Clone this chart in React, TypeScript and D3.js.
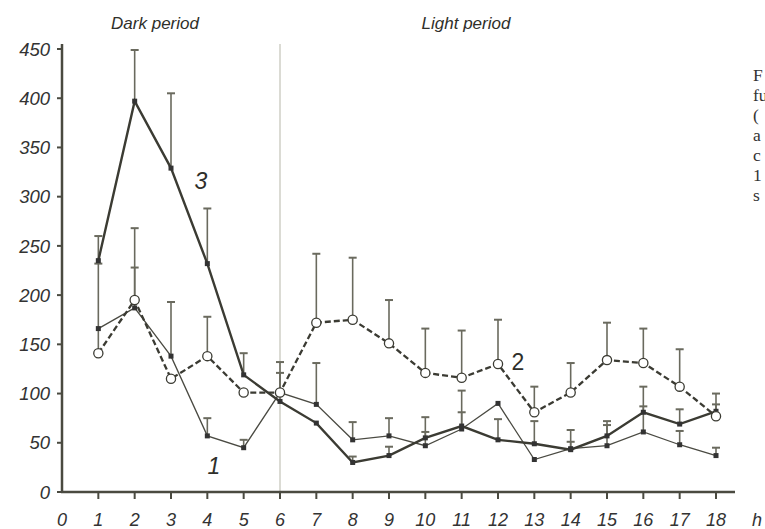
import { useEffect, useRef } from "react";
import * as d3 from "d3";

const hours = [1, 2, 3, 4, 5, 6, 7, 8, 9, 10, 11, 12, 13, 14, 15, 16, 17, 18];
const xTicks = [0, 1, 2, 3, 4, 5, 6, 7, 8, 9, 10, 11, 12, 13, 14, 15, 16, 17, 18];
const yTicks = [0, 50, 100, 150, 200, 250, 300, 350, 400, 450];

// curve 1 (thin solid), 2 (dashed, open circles), 3 (thick solid)
const series1 = [166, 187, 138, 57, 45, 101, 89, 53, 57, 47, 64, 90, 33, 44, 47, 61, 48, 37];
const series1Err = [null, 228, 193, 75, 53, null, 131, 71, 75, 61, 81, null, null, 51, 68, 87, 62, 45];
const series2 = [141, 195, 115, 138, 101, 101, 172, 175, 151, 121, 116, 130, 81, 101, 134, 131, 107, 77];
const series2Err = [232, 268, null, 178, null, 132, 242, 238, 195, 166, 164, 175, 107, 131, 172, 166, 145, 89];
const series3 = [235, 397, 329, 232, 119, 92, 70, 30, 37, 55, 67, 53, 49, 43, 57, 81, 69, 82];
const series3Err = [260, 449, 405, 288, 141, 121, null, 36, 46, 76, 103, 74, 72, 63, 72, 107, 84, 100];

const rightText = ["F", "fu", "(", "a", "c", "1", "s"];

const ink = "#3b3b33";
const barInk = "#6a6a5e";

export default function App() {
  const svgRef = useRef<SVGSVGElement | null>(null);
  const width = 765;
  const height = 529;

  useEffect(() => {
    const svg = d3.select(svgRef.current);
    svg.selectAll("*").remove();

    const x = d3.scaleLinear().domain([0, 18]).range([62, 716]);
    const y = d3.scaleLinear().domain([0, 450]).range([492, 49]);
    const font = "Liberation Sans, Arial, sans-serif";

    // dark / light boundary
    svg
      .append("line")
      .attr("x1", x(6))
      .attr("x2", x(6))
      .attr("y1", 44)
      .attr("y2", y(0))
      .attr("stroke", "#cfcfc6")
      .attr("stroke-width", 1.5);

    // axes
    svg
      .append("line")
      .attr("x1", x(0))
      .attr("x2", x(0))
      .attr("y1", 44)
      .attr("y2", y(0) + 1)
      .attr("stroke", "#4a4a40")
      .attr("stroke-width", 2.5);
    svg
      .append("line")
      .attr("x1", x(0) - 1)
      .attr("x2", 735)
      .attr("y1", y(0))
      .attr("y2", y(0))
      .attr("stroke", "#4a4a40")
      .attr("stroke-width", 2.5);

    svg
      .selectAll(".ytick")
      .data(yTicks)
      .enter()
      .append("line")
      .attr("x1", x(0) - 5)
      .attr("x2", x(0))
      .attr("y1", (d) => y(d))
      .attr("y2", (d) => y(d))
      .attr("stroke", "#4a4a40")
      .attr("stroke-width", 2);
    svg
      .selectAll(".ylab")
      .data(yTicks)
      .enter()
      .append("text")
      .attr("x", 50)
      .attr("y", (d) => y(d))
      .attr("dy", "0.36em")
      .attr("text-anchor", "end")
      .attr("font-family", font)
      .attr("font-style", "italic")
      .attr("font-size", 18.5)
      .attr("fill", "#333")
      .text((d) => d);

    svg
      .selectAll(".xtick")
      .data(xTicks.slice(1))
      .enter()
      .append("line")
      .attr("x1", (d) => x(d))
      .attr("x2", (d) => x(d))
      .attr("y1", y(0))
      .attr("y2", y(0) + 7)
      .attr("stroke", "#4a4a40")
      .attr("stroke-width", 2);
    svg
      .selectAll(".xlab")
      .data(xTicks)
      .enter()
      .append("text")
      .attr("x", (d) => x(d))
      .attr("y", 526)
      .attr("text-anchor", "middle")
      .attr("font-family", font)
      .attr("font-style", "italic")
      .attr("font-size", 18)
      .attr("fill", "#333")
      .text((d) => d);
    svg
      .append("text")
      .attr("x", 757)
      .attr("y", 526)
      .attr("text-anchor", "middle")
      .attr("font-family", font)
      .attr("font-style", "italic")
      .attr("font-size", 18)
      .attr("fill", "#333")
      .text("h");

    const drawErr = (vals: number[], errs: (number | null)[]) => {
      hours.forEach((h, i) => {
        const e = errs[i];
        if (e == null) return;
        svg
          .append("line")
          .attr("x1", x(h))
          .attr("x2", x(h))
          .attr("y1", y(vals[i]))
          .attr("y2", y(e))
          .attr("stroke", barInk)
          .attr("stroke-width", 1.6);
        svg
          .append("line")
          .attr("x1", x(h) - 4)
          .attr("x2", x(h) + 4)
          .attr("y1", y(e))
          .attr("y2", y(e))
          .attr("stroke", barInk)
          .attr("stroke-width", 2);
      });
    };
    drawErr(series1, series1Err);
    drawErr(series2, series2Err);
    drawErr(series3, series3Err);

    const line = d3
      .line<number>()
      .x((_, i) => x(hours[i]))
      .y((d) => y(d));

    svg
      .append("path")
      .datum(series1)
      .attr("fill", "none")
      .attr("stroke", "#4a4a42")
      .attr("stroke-width", 1.3)
      .attr("d", line);
    svg
      .append("path")
      .datum(series3)
      .attr("fill", "none")
      .attr("stroke", ink)
      .attr("stroke-width", 2.4)
      .attr("d", line);
    svg
      .append("path")
      .datum(series2)
      .attr("fill", "none")
      .attr("stroke", ink)
      .attr("stroke-width", 2.3)
      .attr("stroke-dasharray", "6,3")
      .attr("d", line);

    // markers
    svg
      .selectAll(".m1")
      .data(series1)
      .enter()
      .append("rect")
      .attr("x", (_, i) => x(hours[i]) - 2.5)
      .attr("y", (d) => y(d) - 2.5)
      .attr("width", 5)
      .attr("height", 5)
      .attr("fill", "#333");
    svg
      .selectAll(".m3")
      .data(series3)
      .enter()
      .append("rect")
      .attr("x", (_, i) => x(hours[i]) - 2.5)
      .attr("y", (d) => y(d) - 2.5)
      .attr("width", 5)
      .attr("height", 5)
      .attr("fill", "#333");
    svg
      .selectAll(".m2")
      .data(series2)
      .enter()
      .append("circle")
      .attr("cx", (_, i) => x(hours[i]))
      .attr("cy", (d) => y(d))
      .attr("r", 4.6)
      .attr("fill", "white")
      .attr("stroke", ink)
      .attr("stroke-width", 1.3);

    // period titles and curve numbers
    const label = (tx: number, ty: number, t: string, size: number, italic: boolean) =>
      svg
        .append("text")
        .attr("x", tx)
        .attr("y", ty)
        .attr("text-anchor", "middle")
        .attr("font-family", font)
        .attr("font-style", italic ? "italic" : "normal")
        .attr("font-size", size)
        .attr("fill", "#2f2f2a")
        .text(t);
    label(155, 29, "Dark period", 17, true);
    label(466, 29, "Light period", 17, true);
    label(201, 189, "3", 23, true);
    label(214, 474, "1", 23, true);
    label(518, 370, "2", 23, false);

    svg
      .selectAll(".rt")
      .data(rightText)
      .enter()
      .append("text")
      .attr("x", 753)
      .attr("y", (_, i) => 81 + i * 20)
      .attr("font-family", "Liberation Serif, Times New Roman, serif")
      .attr("font-size", 17.5)
      .attr("fill", "#333")
      .text((d) => d);
  }, []);

  return (
    <div style={{ position: "absolute", left: 0, top: 0 }}>
      <svg ref={svgRef} width={width} height={height} style={{ display: "block", background: "white" }}></svg>
    </div>
  );
}
